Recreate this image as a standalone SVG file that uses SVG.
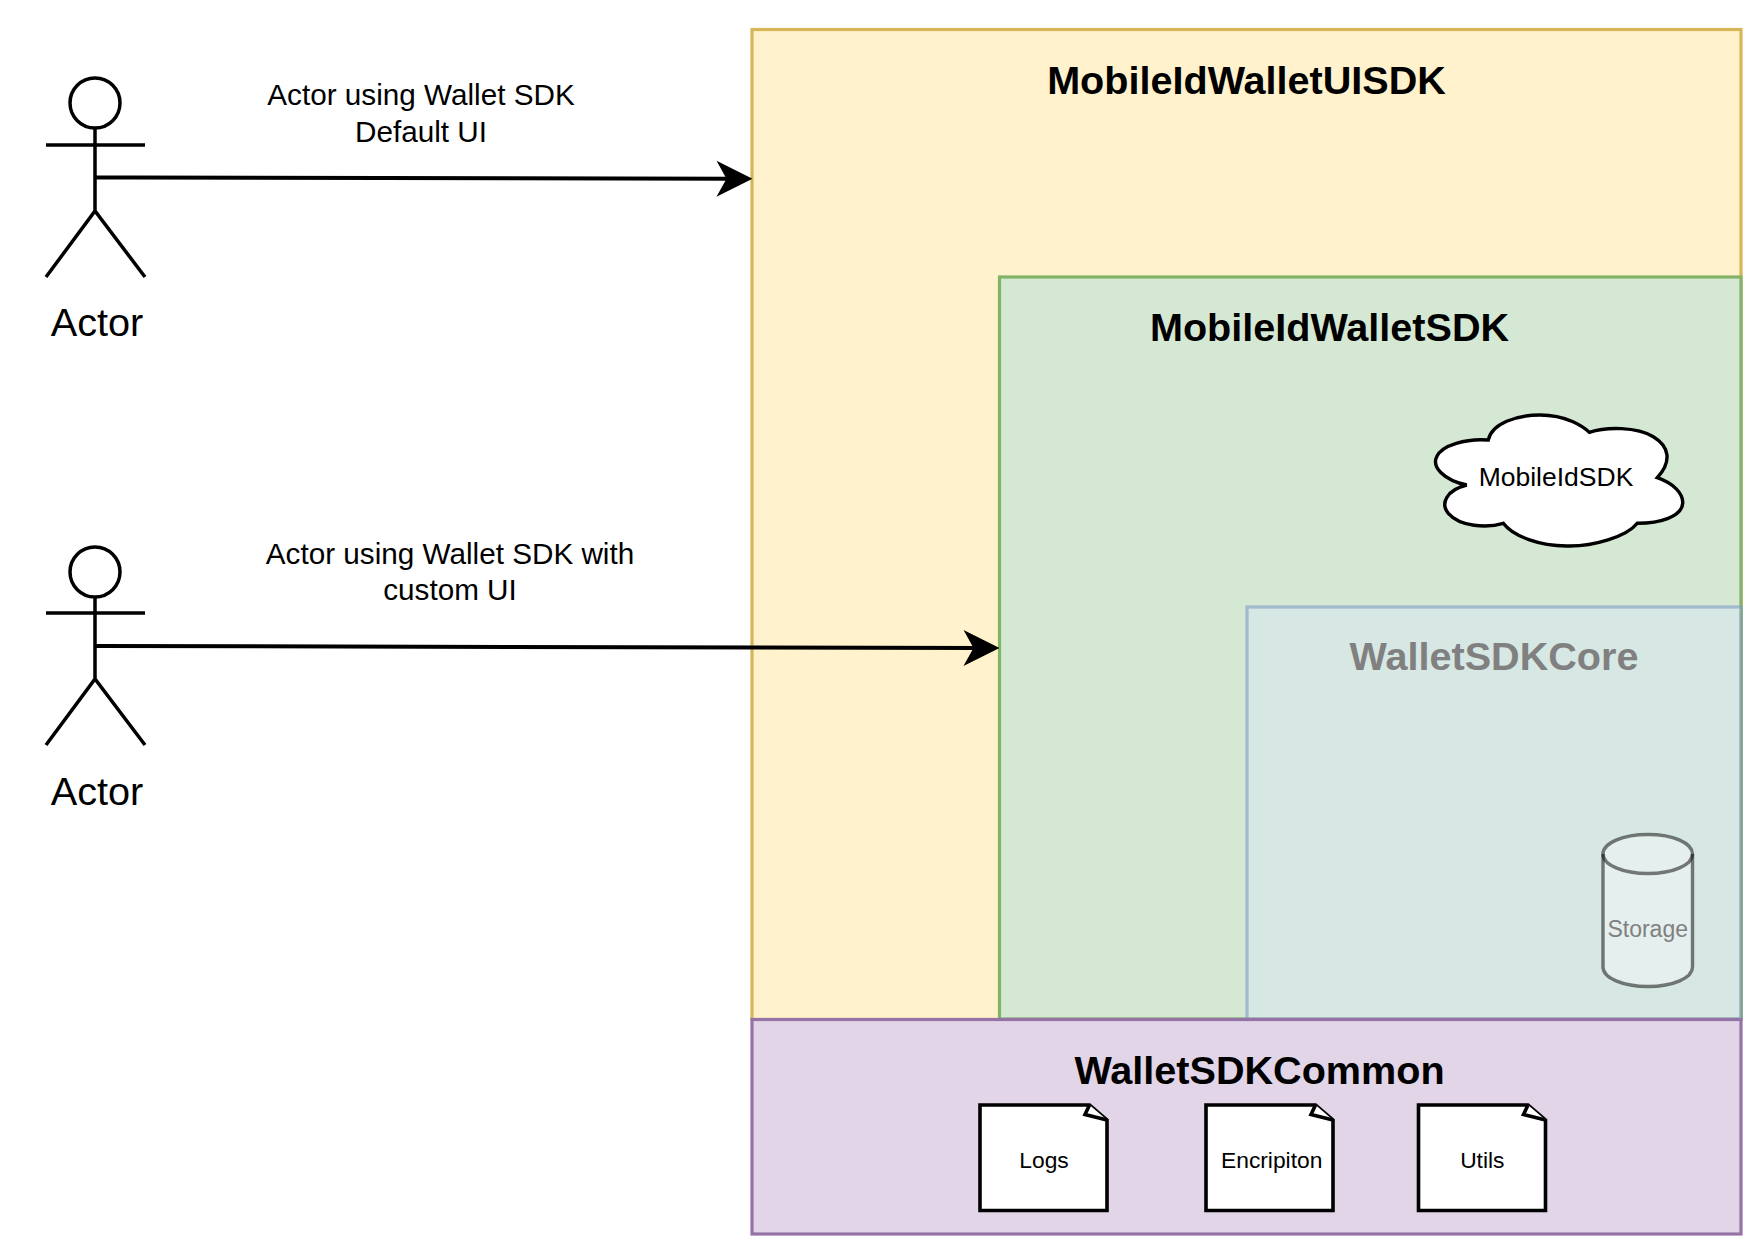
<svg xmlns="http://www.w3.org/2000/svg" width="1764" height="1260" viewBox="0 0 1764 1260">
<style>
text{font-family:"Liberation Sans",Arial,sans-serif;text-anchor:middle;fill:#000}
.title{font-size:39.6px;font-weight:bold}
.actor-label{font-size:39.7px}
.edge-label{font-size:29.7px}
.small{font-size:22.8px}
.stick{fill:none;stroke:#000;stroke-width:3.5}
.note{fill:#fff;stroke:#000;stroke-width:3.6}
.conn{fill:none;stroke:#000;stroke-width:4}
</style>
<defs>
<marker id="arrow" markerUnits="userSpaceOnUse" markerWidth="40" markerHeight="40" refX="16" refY="18" orient="auto" overflow="visible">
<path d="M0,0 L36,18 L0,36 L10,18 Z" fill="#000"/>
</marker>
</defs>
<rect width="1764" height="1260" fill="#fff"/>
<g id="mobile-id-wallet-ui-sdk">
<rect x="752" y="29.5" width="989" height="990" fill="#fff2cc" stroke="#d6b656" stroke-width="3.2"/>
<text class="title" x="1246.5" y="94">MobileIdWalletUISDK</text>
</g>
<g id="mobile-id-wallet-sdk">
<rect x="999.5" y="277" width="741.5" height="742" fill="#d5e8d4" stroke="#82b366" stroke-width="3.2"/>
<text class="title" x="1329.5" y="341">MobileIdWalletSDK</text>
</g>
<g id="mobile-id-sdk">
<path d="M1488.3,440 C1491.7,423.3 1516.7,415 1540,415 C1566.7,415 1583.3,426.7 1589.3,432.3 C1606.7,426.7 1636.7,426.7 1653.3,436.7 C1670,446.7 1671.7,461.7 1657.3,477.7 C1673.3,483.3 1683.3,493.3 1682.7,503.3 C1681.7,516.7 1660,523.3 1637.3,523.3 C1626.7,536.7 1593.3,546.7 1566.7,546 C1540,545.7 1513.3,536.7 1503.3,523.3 C1486.7,528.3 1460,526.7 1448.3,513.3 C1440,503.3 1446.7,490 1466.7,485 C1443.3,480 1431.7,466.7 1436.7,456.7 C1441.7,445 1466.7,438.3 1488.3,440 Z" fill="#fff" stroke="#000" stroke-width="3.4"/>
<text x="1556" y="486" style="font-size:26.5px">MobileIdSDK</text>
</g>
<g id="wallet-sdk-core">
<rect x="1247" y="607" width="494" height="412" fill="#d9e6f2" fill-opacity="0.5" stroke="#6c8ebf" stroke-opacity="0.5" stroke-width="3.2"/>
<text class="title" x="1494" y="670" style="fill:#808080">WalletSDKCore</text>
</g>
<g id="storage">
<path d="M1603,854 C1603,843 1623,834.5 1648,834.5 C1673,834.5 1692.5,843 1692.5,854 L1692.5,967 C1692.5,978 1673,986.5 1648,986.5 C1623,986.5 1603,978 1603,967 Z" fill="#fff" fill-opacity="0.35" stroke="#000" stroke-opacity="0.5" stroke-width="3.4"/>
<path d="M1603,854 C1603,865 1623,873.5 1648,873.5 C1673,873.5 1692.5,865 1692.5,854" fill="none" stroke="#000" stroke-opacity="0.5" stroke-width="3.4"/>
<text class="small" x="1647.7" y="937" style="fill:#808080;font-size:23px">Storage</text>
</g>
<g id="wallet-sdk-common">
<rect x="752" y="1019.5" width="989" height="214.5" fill="#e1d5e7" stroke="#9673a6" stroke-width="3.2"/>
<text class="title" x="1259.5" y="1084">WalletSDKCommon</text>
</g>
<g id="logs">
<path class="note" d="M980,1105 H1089.5 L1107,1120 V1210.5 H980 Z"/>
<path class="note" d="M1089.5,1105 L1085,1114.5 L1107,1120"/>
<text class="small" x="1044" y="1168">Logs</text>
</g>
<g id="encripiton">
<path class="note" d="M1206,1105 H1315.5 L1333,1120 V1210.5 H1206 Z"/>
<path class="note" d="M1315.5,1105 L1311,1114.5 L1333,1120"/>
<text class="small" x="1271.7" y="1168">Encripiton</text>
</g>
<g id="utils">
<path class="note" d="M1418.5,1105 H1528 L1545.5,1120 V1210.5 H1418.5 Z"/>
<path class="note" d="M1528,1105 L1523.5,1114.5 L1545.5,1120"/>
<text class="small" x="1482.3" y="1168">Utils</text>
</g>
<g id="actor-1">
<ellipse class="stick" cx="95" cy="103" rx="25" ry="25"/>
<path class="stick" d="M95,128 V211 M46,145 H145 M46,277 L95,211 L145,277"/>
<text class="actor-label" x="97" y="336">Actor</text>
</g>
<g id="actor-2">
<ellipse class="stick" cx="95" cy="572" rx="25" ry="25"/>
<path class="stick" d="M95,597 V679 M46,613 H145 M46,745 L95,679 L145,745"/>
<text class="actor-label" x="97" y="805">Actor</text>
</g>
<g id="connectors">
<path class="conn" d="M96,177.5 L132,177.5 L732.5,178.8" marker-end="url(#arrow)"/>
<path class="conn" d="M96,646 L979.5,648" marker-end="url(#arrow)"/>
<text class="edge-label" x="421" y="105">Actor using Wallet SDK</text>
<text class="edge-label" x="421" y="142">Default UI</text>
<text class="edge-label" x="450" y="564">Actor using Wallet SDK with</text>
<text class="edge-label" x="450" y="600">custom UI</text>
</g>
</svg>
